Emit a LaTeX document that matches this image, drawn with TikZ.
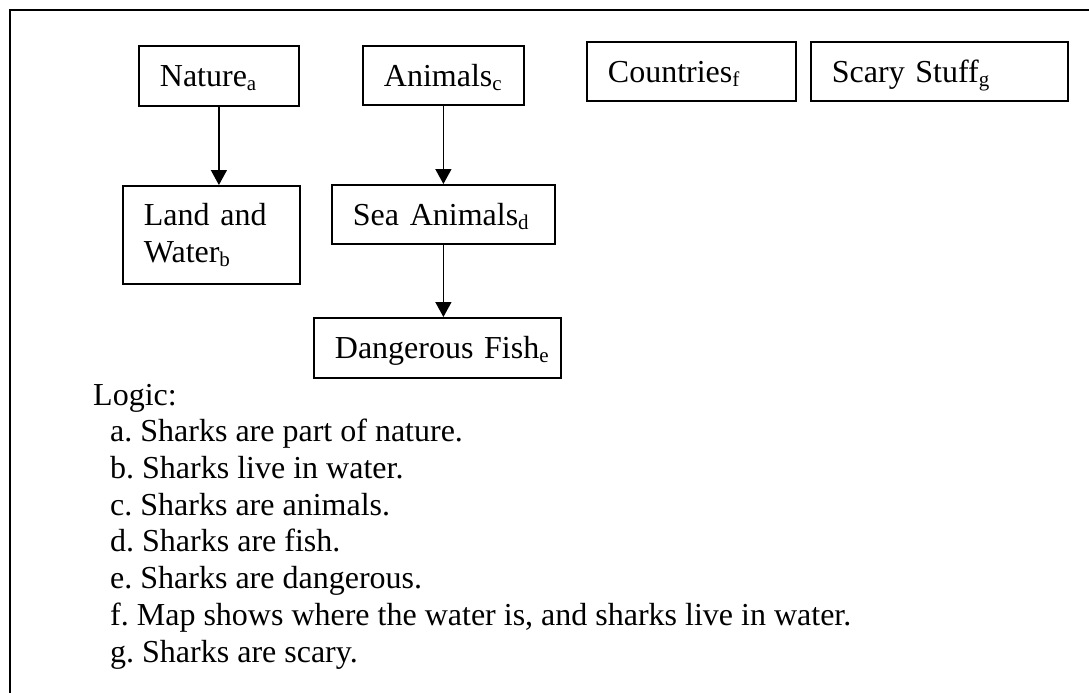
\documentclass[tikz,border=0pt]{standalone}
\usepackage{fontspec}
\setmainfont{Liberation Serif}
\usetikzlibrary{arrows.meta}
\newcommand\sbs[1]{\raisebox{-0.12em}{\fontsize{21}{21}\selectfont #1}}
\begin{document}
\begin{tikzpicture}[x=1pt,y=-1pt,
  box/.style={draw,line width=1.8pt,anchor=north west,inner xsep=21pt,inner ysep=0pt,
    align=left,font=\fontsize{32}{36.8}\selectfont\frenchspacing},
  one/.style={text height=22pt,text depth=0pt},
  arr/.style={-{Triangle[width=16pt,length=15pt]},line width=1.5pt},
  frame/.style={line width=1.8pt}]
\useasboundingbox (0,0) rectangle (1089,693);
\coordinate (fbl) at (10,693);
\coordinate (ftl) at (10,10);
\coordinate (ftr) at (1089,10);
\draw[frame] (fbl) -- (ftl) -- (ftr);
\node[box,one,text width=118pt,minimum height=60pt] (nat) at (138,45) {Nature\sbs{a}};
\node[box,one,text width=119pt,minimum height=59pt] (ani) at (362,45) {Animals\sbs{c}};
\node[box,one,text width=167pt,minimum height=59pt] (cou) at (586,41) {Countries\sbs{f}};
\node[box,one,text width=215pt,minimum height=59pt] (sca) at (810,41) {Scary Stuff\sbs{g}};
\node[box,text width=135pt,minimum height=98pt] (law) at (122,185) {Land and\\Water\sbs{b}};
\node[box,one,text width=181pt,minimum height=59pt] (sea) at (331,184) {Sea Animals\sbs{d}};
\node[box,one,text width=205pt,minimum height=60pt] (dan) at (313,317) {\mbox{Dangerous Fish\sbs{e}}};
\draw[arr] (nat.south) -- (nat.south |- law.north);
\draw[arr] (ani.south) -- (ani.south |- sea.north);
\draw[arr] (sea.south) -- (sea.south |- dan.north);
\node[anchor=base west,align=left,inner sep=0pt,font=\fontsize{32}{36.7}\selectfont\frenchspacing] (logic) at (93,662)
 {Logic:\\
  \hspace*{17pt}a. Sharks are part of nature.\\
  \hspace*{17pt}b. Sharks live in water.\\
  \hspace*{17pt}c. Sharks are animals.\\
  \hspace*{17pt}d. Sharks are fish.\\
  \hspace*{17pt}e. Sharks are dangerous.\\
  \hspace*{17pt}f. Map shows where the water is, and sharks live in water.\\
  \hspace*{17pt}g. Sharks are scary.};
\end{tikzpicture}
\end{document}
